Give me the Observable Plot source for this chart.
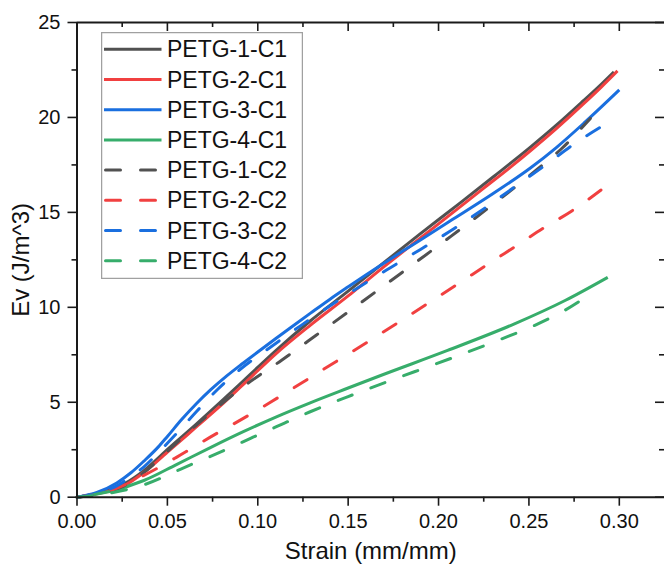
<!DOCTYPE html>
<html><head><meta charset="utf-8">
<script src="https://cdn.jsdelivr.net/npm/d3@7"></script>
<script src="https://cdn.jsdelivr.net/npm/@observablehq/plot@0.6"></script>
<style>
html,body{margin:0;padding:0;background:#fff;}
#wrap{position:relative;width:664px;height:571px;overflow:hidden;font-family:"Liberation Sans",Arial,sans-serif;}
#wrap svg{display:block;}
#legend{position:absolute;left:101px;top:32px;}
</style>
</head><body>
<div id="wrap"><div id="chart"></div><div id="legend"></div></div>
<script>
// ---- data ----
const seriesNames = ["PETG-1-C1","PETG-2-C1","PETG-3-C1","PETG-4-C1","PETG-1-C2","PETG-2-C2","PETG-3-C2","PETG-4-C2"];
const seriesColors = ["#515151","#F14040","#1A6FDF","#37AD6B","#515151","#F14040","#1A6FDF","#37AD6B"];
const seriesDashed = [false,false,false,false,true,true,true,true];

const strain_1_C1 = [0,0.011,0.026,0.037,0.051,0.066,0.081,0.096,0.11,0.129,0.15,0.168,0.19,0.212,0.23,0.251,0.265,0.28,0.29,0.297];
const ev_1_C1     = [0,0.2,0.7,1.4,2.6,3.85,5.15,6.48,7.72,9.28,10.85,12.22,13.88,15.5,16.85,18.45,19.58,20.87,21.75,22.4];

const strain_2_C1 = [0,0.011,0.026,0.037,0.051,0.066,0.081,0.096,0.11,0.129,0.15,0.168,0.19,0.207,0.224,0.24,0.251,0.265,0.28,0.29,0.299];
const ev_2_C1     = [0,0.18,0.6,1.3,2.45,3.7,4.95,6.3,7.55,9.05,10.6,12.0,13.65,14.92,16.2,17.4,18.26,19.4,20.7,21.6,22.45];

const strain_3_C1 = [0,0.011,0.022,0.03,0.037,0.045,0.05,0.058,0.066,0.074,0.083,0.092,0.1,0.11,0.12,0.129,0.14,0.15,0.16,0.17,0.18,0.19,0.207,0.23,0.251,0.265,0.281,0.3];
const ev_3_C1     = [0,0.25,0.75,1.3,1.9,2.65,3.2,4.1,4.92,5.66,6.4,7.07,7.65,8.36,9.06,9.68,10.43,11.08,11.72,12.34,12.95,13.55,14.58,15.98,17.35,18.4,19.75,21.45];

const strain_4_C1 = [0,0.018,0.037,0.055,0.0735,0.092,0.11,0.129,0.15,0.168,0.205,0.242,0.27,0.2936];
const ev_4_C1     = [0,0.3,0.88,1.72,2.6,3.45,4.22,4.97,5.75,6.41,7.73,9.13,10.36,11.58];

const strain_1_C2 = [0,0.026,0.037,0.051,0.066,0.081,0.096,0.113,0.1275,0.142,0.16,0.1736,0.191,0.207,0.22,0.238,0.255,0.268,0.284];
const ev_1_C2     = [0,0.6,1.3,2.5,3.8,5.0,6.1,7.2,8.2,9.2,10.45,11.4,12.62,13.75,14.68,16.0,17.3,18.35,19.95];

const strain_2_C2 = [0,0.02,0.037,0.055,0.0735,0.092,0.107,0.124,0.14,0.157,0.1736,0.194,0.2105,0.227,0.244,0.2585,0.2733,0.2908];
const ev_2_C2     = [0,0.4,1.15,2.1,3.15,4.15,5.0,6.0,6.95,7.95,8.95,10.2,11.22,12.25,13.3,14.2,15.05,16.24];

const strain_3_C2 = [0,0.011,0.022,0.03,0.037,0.045,0.054,0.066,0.078,0.0905,0.107,0.124,0.15,0.1736,0.19,0.2087,0.2237,0.2437,0.26,0.275,0.292];
const ev_3_C2     = [0,0.2,0.6,1.1,1.6,2.35,3.25,4.5,5.7,6.75,7.9,9.05,10.7,12.1,13.05,14.15,15.1,16.45,17.55,18.6,19.63];

const strain_4_C2 = [0,0.02,0.037,0.059,0.077,0.096,0.11,0.129,0.15,0.175,0.198,0.216,0.2345,0.252,0.27,0.2847];
const ev_4_C2     = [0,0.25,0.65,1.55,2.28,3.1,3.7,4.5,5.3,6.2,7.0,7.64,8.32,9.0,9.85,10.74];

const xMajorTicks = [0,0.05,0.10,0.15,0.20,0.25,0.30];
const xMinorTicks = [0.025,0.075,0.125,0.175,0.225,0.275];
const yMajorTicks = [0,5,10,15,20,25];
const yMinorTicks = [2.5,7.5,12.5,17.5,22.5];
const xLabel = "Strain (mm/mm)";
const yLabel = "Ev (J/m^3)";

// ---- build table ----
const strainArrays = [strain_1_C1,strain_2_C1,strain_3_C1,strain_4_C1,strain_1_C2,strain_2_C2,strain_3_C2,strain_4_C2];
const evArrays = [ev_1_C1,ev_2_C1,ev_3_C1,ev_4_C1,ev_1_C2,ev_2_C2,ev_3_C2,ev_4_C2];
const rows = [];
seriesNames.forEach((name, i) => {
  strainArrays[i].forEach((s, j) => rows.push({series: name, strain: s, ev: evArrays[i][j]}));
});

const W = 664, H = 571, mL = 76.5, mR = 0, mT = 22, mB = 74.3;
const plotW = W - mL - mR, plotH = H - mT - mB;
const axisColor = "#1a1a1a";
const font = "Liberation Sans, Arial, sans-serif";

const lineMarks = seriesNames.map((name, i) => Plot.line(rows.filter(r => r.series === name), {
  x: "strain", y: "ev", stroke: seriesColors[i], strokeWidth: 3,
  strokeDasharray: seriesDashed[i] ? "15,20" : null,
  strokeLinecap: seriesDashed[i] ? "round" : "butt",
  curve: "monotone-x"
}));

const chart = Plot.plot({
  width: W, height: H,
  marginLeft: mL, marginRight: mR, marginTop: mT, marginBottom: mB,
  style: {fontFamily: font, fontSize: "20px", color: "#111", background: "transparent", overflow: "hidden"},
  x: {domain: [0, 0.325]},
  y: {domain: [0, 25]},
  marks: [
    ...lineMarks,
    Plot.axisX(xMajorTicks, {anchor: "bottom", tickSize: 9, tickPadding: 7.6, tickFormat: d => d.toFixed(2), label: null, fontSize: 20, stroke: axisColor, strokeWidth: 1.6, fill: "#111"}),
    Plot.axisX(xMinorTicks, {anchor: "bottom", tickSize: 5, tickFormat: () => "", label: null, stroke: axisColor, strokeWidth: 1.6}),
    Plot.axisY(yMajorTicks, {anchor: "left", tickSize: 9, tickPadding: 7.5, label: null, fontSize: 20, stroke: axisColor, strokeWidth: 1.6, fill: "#111"}),
    Plot.axisY(yMinorTicks, {anchor: "left", tickSize: 5, tickFormat: () => "", label: null, stroke: axisColor, strokeWidth: 1.6}),
    Plot.tickX(xMajorTicks, {x: d => d, insetBottom: plotH - 9, stroke: axisColor, strokeWidth: 1.6}),
    Plot.tickX(xMinorTicks, {x: d => d, insetBottom: plotH - 5, stroke: axisColor, strokeWidth: 1.6}),
    Plot.tickY(yMajorTicks, {y: d => d, insetLeft: plotW - 9, stroke: axisColor, strokeWidth: 1.6}),
    Plot.tickY(yMinorTicks, {y: d => d, insetLeft: plotW - 5, stroke: axisColor, strokeWidth: 1.6}),
    Plot.ruleX([0], {stroke: axisColor, strokeWidth: 2}),
    Plot.ruleY([0, 25], {stroke: axisColor, strokeWidth: 2}),
    Plot.text([xLabel], {text: d => d, frameAnchor: "bottom", textAnchor: "middle", dy: 61.6, fontSize: 24, fill: "#111"}),
    Plot.text([yLabel], {text: d => d, frameAnchor: "left", textAnchor: "middle", rotate: -90, dx: -56, fontSize: 24, fill: "#111"})
  ]
});
document.getElementById("chart").appendChild(chart);

// ---- legend (inside the plot, top-left) ----
const lg = d3.select("#legend").append("svg").attr("width", 202).attr("height", 247);
lg.append("rect").attr("x", 0.5).attr("y", 0.5).attr("width", 201).attr("height", 246)
  .attr("fill", "#fff").attr("stroke", "#a0a0a0").attr("stroke-width", 1.5);
seriesNames.forEach((name, i) => {
  const cy = 17.3 + i * 30.2;
  lg.append("line").attr("x1", seriesDashed[i] ? 4.5 : 3).attr("x2", 60.5).attr("y1", cy).attr("y2", cy)
    .attr("stroke", seriesColors[i]).attr("stroke-width", 3)
    .attr("stroke-dasharray", seriesDashed[i] ? "15,20" : null)
    .attr("stroke-linecap", seriesDashed[i] ? "round" : "butt");
  lg.append("text").attr("x", 66).attr("y", cy + 8).attr("font-family", font).attr("font-size", 23)
    .attr("fill", "#111").text(name);
});
</script>
</body></html>
